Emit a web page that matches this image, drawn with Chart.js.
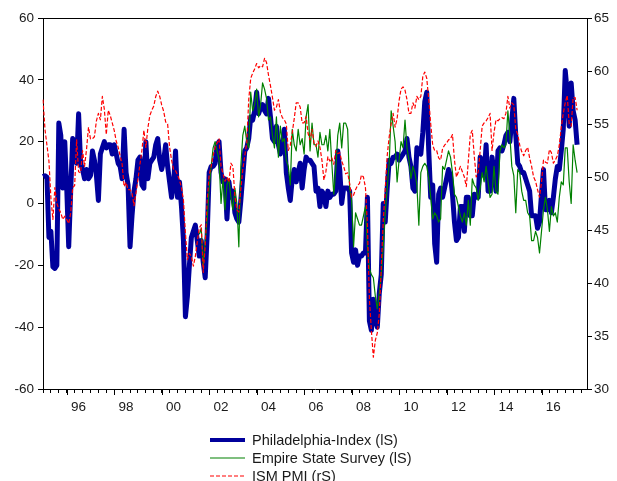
<!DOCTYPE html>
<html>
<head>
<meta charset="utf-8">
<script src="https://cdn.jsdelivr.net/npm/chart.js@4.4.1/dist/chart.umd.min.js"></script>
<style>
  html, body { margin: 0; padding: 0; background: #fff; }
  #wrap { width: 617px; height: 481px; }
</style>
</head>
<body>
<div id="wrap"><canvas id="chart" width="617" height="481"></canvas></div>
<script>
// monthly sample 1995m01 - 2017m12
var START_YEAR = 1995;
var END_YEAR = 2017;
// x-axis labels, centred on the middle of the even years
var xTickLabels = ['96', '98', '00', '02', '04', '06', '08', '10', '12', '14', '16'];

// Philadelphia Fed index (left scale), from 1995m01
var philly = [
  8.7, 9, 8.5, -11, -9, -20.5, -21, -20, 26, 22, 5, 20,
  5, -14, 4, 21, 20, 13, 29, 13, 11, 8, 11, 8,
  9, 17, 14, 9, 1, 16, 18, 20, 18, 19, 19, 16,
  19, 16, 13, 12, 8, 24, 10, 6, -14, -4, 4, 8,
  14, 15, 6, 5, 20, 8, 13, 14, 15, 19, 21, 14,
  11, 14, 19, 12, 7, 2, 6, 17, 2, 7, -1, -12,
  -36.6, -30, -20, -11, -9, -7, -12, -17, -12, -19, -24, -10,
  10, 12, 12, 13, 19, 20, 10, 7, 8, -5, 7, 2,
  4, -3, -5, -6, 1, 9, 17, 18, 21, 28, 27, 30,
  36, 29, 31, 32, 30, 29, 34, 28, 21, 20, 25, 19,
  16, 19, 24, 10, 5, 1, 8, 11, 7, 10, 13, 5,
  11, 15, 14, 14, 13, 12, 4, 5, -1, 4, 3, -1,
  4, 2, 3, 3, 4, 17, 11, 0, 5, 5, 5, 4,
  -16, -19, -15, -20, -17, -17, -16, -16, 2, -38, -41, -31,
  -38, -40, -29, -23, 0, -6, 5, 14, 13, 15, 15, 16,
  14, 15, 16, 17, 21, 15, 12, 5, 4, 18, 17, 16,
  23, 33, 36, 17, 2, 6, -13, -19, 3, 5, 2, 5,
  8, 11, 9, 3, -6, -12, -11, -1, -1, -9, 2, 2,
  -4, -4, 3, 2, 2, 15, 13, 9, 19, 4, 4, 15,
  10, 4, 17, 18, 17, 19, 22, 23, 20, 27, 34, 22,
  13, 12, 10, 10, 8, 6, 4, -4, -4, -4, -8, -6,
  3, 11, -2, -2, 1, -3, 2, 8, 12, 11, 17, 24,
  43, 36, 25, 39, 30, 27, 19
];

// Empire State survey (left scale), from 2001m08
var EMPIRE_START = 79;
var empire = [
  -10, -8, -20, -12, -5,
  5, 12, 18, 20, 17, 14, 0, 8, -2, 6, 8, 2,
  -2, 5, 0, -14, 12, 22, 25, 20, 18, 36, 30, 32,
  37, 28, 32, 39, 37, 34, 27, 28, 22, 18, 28, 15,
  25, 20, 21, 14, 12, 6, 24, 19, 17, 24, 19, 21,
  16, 28, 32, 17, 26, 19, 19, 15, 23, 19, 19, 22,
  17, 24, 13, 3, 11, 22, 26, 18, 26, 26, 24, 5,
  1, -14, -3, -5, -7, -7, -4, -1, -14, -21, -23, -24,
  -30, -34, -29, -23, -14, -3, 5, 13, 30, 25, 20, 7,
  14, 20, 18, 27, 18, 14, 8, 12, 10, 6, -7, 10,
  12, 13, 12, 8, 2, -5, -3, -4, -6, -5, 12, 11,
  14, 17, 15, 10, 3, 2, -1, -4, -6, -3, -7, 1,
  -7, 8, 6, 5, 1, 5, 10, 7, 12, 7, 2, 3,
  12, 4, 3, 17, 19, 18, 19, 30, 22, 12, 9, -3,
  11, 10, 4, 1, 1, -3, -4, -12, -12, -9, -11, -16,
  -9, -2, 2, -2, -9, -1, -4, -3, -6, 2, 7, 6,
  18, 18, 7, 0, 19, 14, 10
];

// ISM PMI (right scale), from 1995m01
var ism = [
  57.3, 54.5, 53, 51.5, 48, 46, 49, 47.5, 47, 46.6, 46, 46.3,
  46, 45.6, 46.6, 49, 49.2, 53.5, 50.5, 50.4, 52.5, 51, 52.6, 54.7,
  53.6, 53.6, 53.8, 55.3, 56, 55.4, 57.6, 56.4, 54, 56.3, 55.8, 55.1,
  54.4, 53.4, 52.8, 52, 51.2, 49.1, 49.5, 48.8, 48.8, 48.5, 47.3, 48.5,
  49.8, 51.2, 52.5, 54.4, 52.8, 54.6, 55.8, 56.3, 56.7, 57.6, 58.1, 57.6,
  56.8, 56.2, 55.2, 55, 52.8, 51.6, 50.7, 50.6, 50.2, 49.7, 49, 47.8,
  44.7, 42.2, 42.8, 42.5, 41.6, 42.5, 43.9, 45.2, 45.5, 41, 43.5, 47.8,
  50.2, 51, 52, 52.8, 53.2, 53.6, 51, 50.3, 49.6, 50, 49.5, 51.3,
  51, 48.2, 46.9, 46.7, 48.8, 50.7, 52, 53.2, 57.3, 59.3, 59.8, 60.2,
  60.7, 60.3, 60.5, 60.4, 61.2, 60.8, 59.6, 58.6, 57.5, 56.3, 56.6, 57.3,
  56.1, 55.6, 55.4, 55, 52.5, 53, 54.2, 55.5, 57, 57, 56.6, 55.1,
  55.1, 55.7, 54.1, 53.5, 54.5, 53.2, 52.9, 53.4, 52.8, 51.6, 49.7, 50.5,
  51.9, 51.5, 51.8, 51.2, 52.5, 52.2, 52.3, 51.5, 51, 50.3, 50.4, 49.4,
  48.1, 48.3, 48.8, 49.2, 49.4, 50.2, 50, 49, 45.5, 38.5, 35.5, 33,
  34.6, 35.3, 37.1, 41.5, 45.9, 48.8, 52, 53.8, 55, 56, 54.7, 55.5,
  57.2, 58.3, 58.5, 58.2, 57.3, 56, 56, 57, 56.5, 57.6, 57.3, 57.6,
  59.5, 59.9, 59.3, 57.3, 55, 53, 52.5, 52.5, 51.8, 51.6, 52.7, 53,
  53.2, 53.5, 53.6, 54, 51.6, 50, 50.5, 51, 50.5, 50, 49.1, 51.5,
  54, 54.4, 52, 50, 50.5, 52.5, 54.8, 55.1, 55.3, 55.6, 56, 52.5,
  54.2, 55.4, 55.3, 55.5, 55.6, 55.5, 56, 57.6, 56.5, 57, 56.8, 54.5,
  54, 53, 52.4, 52, 52.5, 52.8, 51.8, 51, 50, 49.6, 48.8, 48.1,
  49.5, 51.6, 51.4, 51.3, 52.6, 52.3, 51.3, 51.6, 52, 53, 54.7, 56,
  57, 57.7, 55, 54.8, 57.5, 57.5, 56.3
];

var seriesNames = ['Philadelphia-Index (lS)', 'Empire State Survey (lS)', 'ISM PMI (rS)'];
var colors = ['#00009c', '#008000', '#ff0000'];

// month labels
var months = [];
for (var y = START_YEAR; y <= END_YEAR; y++) {
  for (var m = 1; m <= 12; m++) {
    months.push(y + '-' + (m < 10 ? '0' + m : m));
  }
}

// pad series to the full sample
function pad(values, start) {
  var out = [];
  for (var i = 0; i < months.length; i++) {
    var k = i - start;
    out.push((k >= 0 && k < values.length) ? values[k] : null);
  }
  return out;
}

var textColor = '#1a1a1a';
var tickFont = { family: 'Liberation Sans, Arial, sans-serif', size: 13.5 };

// top frame line + long ticks at every second January
var framePlugin = {
  id: 'frame',
  afterDraw: function(chart) {
    var a = chart.chartArea;
    var ctx = chart.ctx;
    var xs = chart.scales.x;
    ctx.save();
    ctx.strokeStyle = '#000';
    ctx.lineWidth = 1;
    ctx.beginPath();
    ctx.moveTo(a.left, a.top + 0.5);
    ctx.lineTo(a.right, a.top + 0.5);
    for (var i = 12; i < months.length; i += 24) {
      var px = Math.round(xs.getPixelForValue(i)) + 0.5;
      ctx.moveTo(px, a.bottom);
      ctx.lineTo(px, a.bottom + 6);
    }
    ctx.stroke();
    ctx.restore();
  }
};

// legend, one entry per row below the chart
var legendPlugin = {
  id: 'rowLegend',
  afterDraw: function(chart) {
    var ctx = chart.ctx;
    ctx.save();
    ctx.font = '14.5px "Liberation Sans", Arial, sans-serif';
    ctx.textBaseline = 'middle';
    ctx.fillStyle = textColor;
    var rows = [440, 458, 476];
    chart.data.datasets.forEach(function(ds, k) {
      var yy = rows[k];
      ctx.beginPath();
      ctx.strokeStyle = ds.borderColor;
      ctx.lineWidth = k === 0 ? 4 : 1.2;
      ctx.setLineDash(ds.borderDash || []);
      ctx.moveTo(210, yy);
      ctx.lineTo(245, yy);
      ctx.stroke();
      ctx.setLineDash([]);
      ctx.fillText(ds.label, 252, yy + 1);
    });
    ctx.restore();
  }
};

var chart = new Chart(document.getElementById('chart'), {
  type: 'line',
  data: {
    labels: months,
    datasets: [
      {
        label: seriesNames[0],
        data: pad(philly, 0),
        borderColor: colors[0],
        borderWidth: 5,
        yAxisID: 'y',
        order: 3
      },
      {
        label: seriesNames[1],
        data: pad(empire, EMPIRE_START),
        borderColor: colors[1],
        borderWidth: 1.2,
        yAxisID: 'y',
        order: 2
      },
      {
        label: seriesNames[2],
        data: pad(ism, 0),
        borderColor: colors[2],
        borderWidth: 1.2,
        borderDash: [4, 2],
        yAxisID: 'y2',
        order: 1
      }
    ]
  },
  options: {
    responsive: false,
    animation: false,
    devicePixelRatio: 1,
    layout: { padding: { top: 18, left: 0, right: 0, bottom: 0 } },
    elements: {
      point: { radius: 0 },
      line: { tension: 0, fill: false, borderJoinStyle: 'round' }
    },
    plugins: {
      legend: { display: false },
      tooltip: { enabled: false }
    },
    scales: {
      x: {
        type: 'category',
        offset: false,
        afterBuildTicks: function(scale) {
          var t = [];
          for (var i = 0; i < months.length; i++) {
            if (i % 4 === 0 || i % 24 === 18) t.push({ value: i });
          }
          scale.ticks = t;
        },
        afterFit: function(scale) { scale.height = 92; },
        ticks: {
          autoSkip: false,
          maxRotation: 0,
          minRotation: 0,
          padding: 6,
          color: textColor,
          font: tickFont,
          callback: function(value) {
            if (value % 24 === 18) return xTickLabels[(value - 18) / 24] || '';
            return '';
          }
        },
        grid: {
          drawOnChartArea: false,
          drawTicks: true,
          tickLength: 4,
          color: function(c) {
            return (c.tick && c.tick.value % 4 === 0) ? '#000' : 'rgba(0,0,0,0)';
          }
        },
        border: { display: true, color: '#000', width: 1 }
      },
      y: {
        position: 'left',
        min: -60,
        max: 60,
        afterFit: function(scale) { scale.width = 43; },
        ticks: { stepSize: 20, padding: 4, color: textColor, font: tickFont },
        grid: { drawOnChartArea: false, tickLength: 5, color: '#000' },
        border: { display: true, color: '#000', width: 1 }
      },
      y2: {
        position: 'right',
        min: 30,
        max: 65,
        afterFit: function(scale) { scale.width = 30; },
        ticks: { stepSize: 5, padding: 2, color: textColor, font: tickFont },
        grid: { drawOnChartArea: false, tickLength: 5, color: '#000' },
        border: { display: true, color: '#000', width: 1 }
      }
    }
  },
  plugins: [framePlugin, legendPlugin]
});
</script>
</body>
</html>
